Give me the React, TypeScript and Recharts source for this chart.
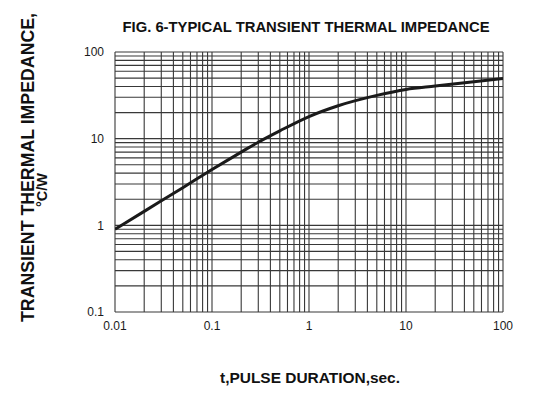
import React from "react";
import { LineChart, Line, XAxis, YAxis, ReferenceLine } from "recharts";

const pulseDuration = [0.01, 0.02, 0.05, 0.1, 0.2, 0.3, 0.5, 1, 2, 5, 10, 20, 50, 100];
const impedance = [0.9, 1.45, 2.72, 4.4, 7.0, 9.1, 12.3, 18, 24, 31.6, 37, 40.5, 45.5, 49.5];

const xTicks = [0.01, 0.1, 1, 10, 100];
const xTickLabels = ["0.01", "0.1", "1", "10", "100"];
const yTicks = [0.1, 1, 10, 100];
const yTickLabels = ["0.1", "1", "10", "100"];

const xDecades = [0.01, 0.1, 1, 10];
const yDecades = [0.1, 1, 10];
const multipliers = [1, 2, 3, 4, 5, 6, 7, 8, 9];

const title = "FIG. 6-TYPICAL TRANSIENT THERMAL IMPEDANCE";
const yLabel1 = "TRANSIENT THERMAL IMPEDANCE,";
const yLabel2 = "°C/W";
const xLabel = "t,PULSE DURATION,sec.";

const data = pulseDuration.map((t, i) => ({ t, z: impedance[i] }));
const xGrid = [...xDecades.flatMap((d) => multipliers.map((m) => +(d * m).toPrecision(3))), 100];
const yGrid = [...yDecades.flatMap((d) => multipliers.map((m) => +(d * m).toPrecision(3))), 100];

const FONT = "'Liberation Sans', Arial, sans-serif";
const GRID = "#383838";

export default function App() {
  return (
    <div style={{ position: "absolute", left: 0, top: 0, width: 533, height: 398, background: "#fff" }}>
      <LineChart width={533} height={398} data={data} margin={{ top: 52, right: 30, bottom: 0, left: 0 }}>
        <XAxis
          dataKey="t"
          type="number"
          scale="log"
          domain={[0.01, 100]}
          allowDataOverflow
          ticks={xTicks}
          tickFormatter={(v: number) => xTickLabels[xTicks.indexOf(v)] ?? String(v)}
          height={86}
          tickLine={false}
          tickSize={0}
          tickMargin={9}
          axisLine={false}
          tick={{ fill: "#1a1a1a", fontSize: 12, fontFamily: FONT }}
          interval={0}
        />
        <YAxis
          type="number"
          scale="log"
          domain={[0.1, 100]}
          allowDataOverflow
          ticks={yTicks}
          tickFormatter={(v: number) => yTickLabels[yTicks.indexOf(v)] ?? String(v)}
          width={115}
          tickLine={false}
          tickSize={0}
          tickMargin={11}
          axisLine={false}
          tick={{ fill: "#1a1a1a", fontSize: 12, fontFamily: FONT }}
          interval={0}
        />
        {xGrid.map((v) => (
          <ReferenceLine key={"x" + v} x={v} stroke={GRID} strokeWidth={1.1} />
        ))}
        {yGrid.map((v) => (
          <ReferenceLine key={"y" + v} y={v} stroke={GRID} strokeWidth={1.1} />
        ))}
        <Line
          dataKey="z"
          type="monotone"
          stroke="#1a1a1a"
          strokeWidth={3}
          dot={false}
          isAnimationActive={false}
        />
      </LineChart>
      <svg width={533} height={398} style={{ position: "absolute", left: 0, top: 0, pointerEvents: "none" }}>
        <text
          x={306}
          y={32}
          textAnchor="middle"
          fontFamily={FONT}
          fontWeight="bold"
          fontSize={14.5}
          textLength={367}
          lengthAdjust="spacingAndGlyphs"
          fill="#111"
        >
          {title}
        </text>
        <text
          x={0}
          y={0}
          transform="translate(33.5,167.5) rotate(-90)"
          textAnchor="middle"
          fontFamily={FONT}
          fontWeight="bold"
          fontSize={17.5}
          textLength={309}
          lengthAdjust="spacingAndGlyphs"
          fill="#111"
        >
          {yLabel1}
        </text>
        <text
          x={0}
          y={0}
          transform="translate(47,190) rotate(-90)"
          textAnchor="middle"
          fontFamily={FONT}
          fontWeight="bold"
          fontSize={14.5}
          fill="#111"
        >
          {yLabel2}
        </text>
        <text
          x={310}
          y={383}
          textAnchor="middle"
          fontFamily={FONT}
          fontWeight="bold"
          fontSize={15}
          textLength={180}
          lengthAdjust="spacingAndGlyphs"
          fill="#111"
        >
          {xLabel}
        </text>
      </svg>
    </div>
  );
}
